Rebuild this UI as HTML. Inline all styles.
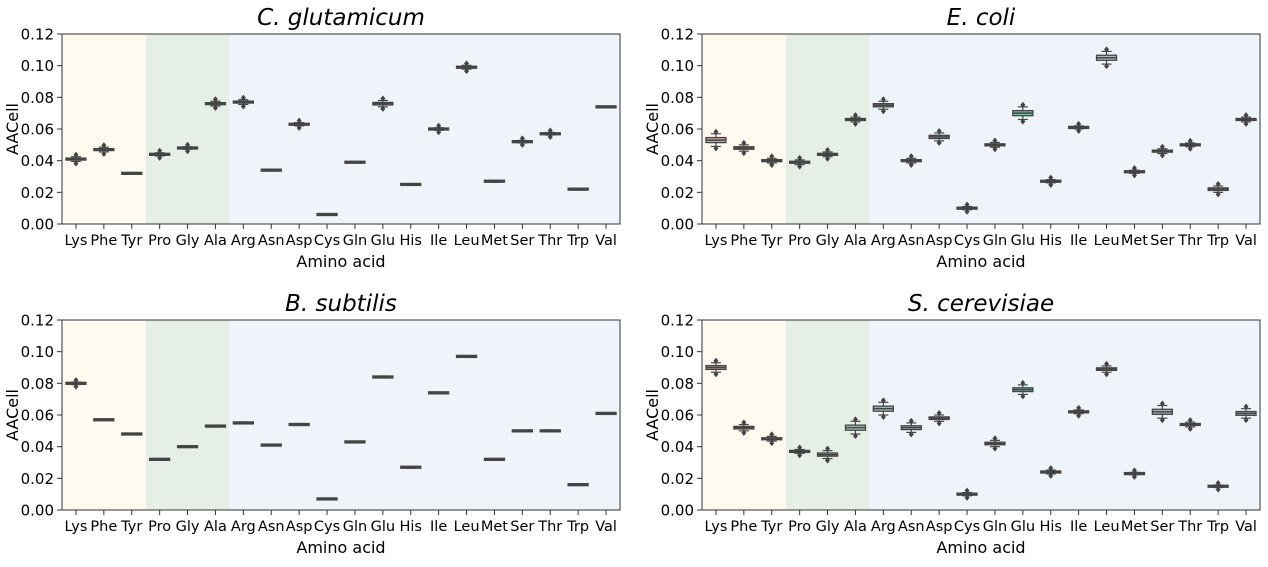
<!DOCTYPE html>
<html><head><meta charset="utf-8"><style>
body{margin:0;background:#fff;width:1268px;height:562px;overflow:hidden}
svg{font-family:"DejaVu Sans","Liberation Sans",sans-serif}
</style></head><body>
<svg id="s" width="1268" height="562" xmlns="http://www.w3.org/2000/svg"></svg>
<script>
const aa=["Lys","Phe","Tyr","Pro","Gly","Ala","Arg","Asn","Asp","Cys","Gln","Glu","His","Ile","Leu","Met","Ser","Thr","Trp","Val"];
const cols=["#c8a8a0","#b4b0a0","#a8b0a8","#a8b8b0","#a0b8b8","#a8c0c0","#b0c0b8","#a8b8c0","#a8b8c8","#b0b8c0","#b8b8c0","#8cb8a8","#b0b0c0","#b8b8b8","#b0b8c8","#b8b0b0","#a8b8b8","#b0b8b0","#a8b0c0","#a8b8c8"];
const P=[
{t:"C. glutamicum",x:62,y:34,d:[.041,.047,.032,.044,.048,.076,.077,.034,.063,.006,.039,.076,.025,.060,.099,.027,.052,.057,.022,.074],w:[.0015,.0015,.0005,.001,.0008,.0015,.0015,.0005,.001,.0004,.0004,.002,.0005,.0008,.0012,.0006,.0008,.0008,.0006,.0005]},
{t:"E. coli",x:702,y:34,d:[.053,.048,.040,.039,.044,.066,.075,.040,.055,.010,.050,.070,.027,.061,.105,.033,.046,.050,.022,.066],w:[.004,.002,.0015,.0015,.0015,.0015,.0025,.0015,.0025,.001,.0015,.004,.001,.001,.004,.001,.0015,.0012,.002,.0015]},
{t:"B. subtilis",x:62,y:320,d:[.080,.057,.048,.032,.040,.053,.055,.041,.054,.007,.043,.084,.027,.074,.097,.032,.050,.050,.016,.061],w:[.0008,.0005,.0005,.0005,.0005,.0006,.0006,.0005,.0006,.0004,.0004,.0006,.0005,.0005,.0006,.0004,.0002,.0005,.0005,.0004]},
{t:"S. cerevisiae",x:702,y:320,d:[.090,.052,.045,.037,.035,.052,.064,.052,.058,.010,.042,.076,.024,.062,.089,.023,.062,.054,.015,.061],w:[.003,.002,.0015,.0012,.0025,.004,.004,.003,.002,.001,.002,.003,.0012,.0012,.002,.0008,.004,.0015,.0008,.003]}];
const W=558,H=190,cw=W/20;let h="";
for(const p of P){
 const Y=v=>p.y+H-v/0.12*H;
 h+=`<rect x="${p.x}" y="${p.y}" width="${3*cw}" height="${H}" fill="#fefaf0"/>`;
 h+=`<rect x="${p.x+3*cw}" y="${p.y}" width="${3*cw}" height="${H}" fill="#e5efe6"/>`;
 h+=`<rect x="${p.x+6*cw}" y="${p.y}" width="${14*cw}" height="${H}" fill="#eff4fa"/>`;
 h+=`<text x="${p.x+W/2}" y="${p.y-9}" font-size="23" font-style="italic" text-anchor="middle">${p.t}</text>`;
 for(let i=0;i<=6;i++){const v=i*0.02,y=Y(v);
  h+=`<line x1="${p.x-5}" x2="${p.x}" y1="${y}" y2="${y}" stroke="#333"/>`;
  h+=`<text x="${p.x-8}" y="${y+5.5}" font-size="15" text-anchor="end">${v.toFixed(2)}</text>`;}
 h+=`<text transform="translate(${p.x-44},${p.y+H/2}) rotate(-90)" font-size="16" text-anchor="middle">AACell</text>`;
 h+=`<text x="${p.x+W/2}" y="${p.y+H+43}" font-size="16" text-anchor="middle">Amino acid</text>`;
 aa.forEach((a,i)=>{const cx=p.x+cw*(i+.5),m=p.d[i],w=p.w[i];
  h+=`<line x1="${cx}" x2="${cx}" y1="${p.y+H}" y2="${p.y+H+5}" stroke="#333"/>`;
  h+=`<text x="${cx}" y="${p.y+H+21}" font-size="14.5" text-anchor="middle">${a}</text>`;
  const yt=Y(m+w),yb=Y(m-w),bh=Math.max(2,(yb-yt)*0.4);
  h+=`<line x1="${cx}" x2="${cx}" y1="${yt}" y2="${yb}" stroke="#444" stroke-width="1.2"/>`;
  h+=`<line x1="${cx-5}" x2="${cx+5}" y1="${yt}" y2="${yt}" stroke="#444" stroke-width="1.2"/>`;
  h+=`<line x1="${cx-5}" x2="${cx+5}" y1="${yb}" y2="${yb}" stroke="#444" stroke-width="1.2"/>`;
  h+=`<rect x="${cx-10}" y="${Y(m)-bh/2}" width="20" height="${bh}" fill="${cols[i]}" stroke="#444" stroke-width="1.3"/>`;
  h+=`<line x1="${cx-10}" x2="${cx+10}" y1="${Y(m)}" y2="${Y(m)}" stroke="#444" stroke-width="1.5"/>`;
  if(w>0.0006){for(const yy of [yt-2,yb+2])h+=`<path d="M${cx} ${yy-3}L${cx+2.5} ${yy}L${cx} ${yy+3}L${cx-2.5} ${yy}Z" fill="#444"/>`;}
 });
 h+=`<rect x="${p.x}" y="${p.y}" width="${W}" height="${H}" fill="none" stroke="#333" stroke-width="1"/>`;
}
document.getElementById("s").innerHTML=h;
</script>
</body></html>
